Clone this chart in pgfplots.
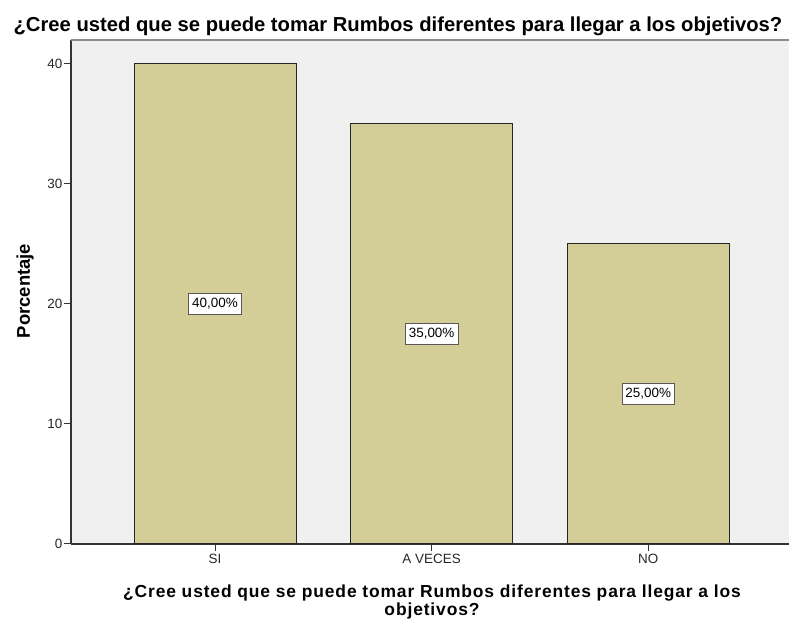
\documentclass[border=0pt]{standalone}
\usepackage{pgfplots}
\pgfplotsset{compat=1.18}
\usepackage{fontspec}
\setmainfont{Liberation Sans}
\definecolor{barfill}{RGB}{211,206,151}
\definecolor{plotbg}{RGB}{240,240,240}

\begin{document}
\begin{tikzpicture}
\useasboundingbox (0,0) rectangle (789bp,619bp);
\begin{axis}[
    at={(71bp,75bp)}, anchor=south west,
    scale only axis, width=718bp, height=504bp,
    xmin=-0.665, xmax=2.65, ymin=0, ymax=42,
    axis x line*=bottom, axis y line*=left,
    axis line style={black!80, line width=1.2bp},
    axis background/.style={fill=plotbg},
    xtick={0,1,2}, xticklabels={SI, A VECES, NO},
    ytick={0,10,20,30,40},
    tick align=outside, major tick length=7bp,
    tick style={black!80, line width=1bp},
    ticklabel style={font=\fontsize{13.5}{15}\selectfont, text=black!85},
    yticklabel style={inner xsep=1.5bp},
    xticklabel style={inner ysep=3bp},
    /pgf/number format/assume math mode=true,
    clip=false,
]
\draw[black!45, line width=1.5bp] (rel axis cs:0,1) -- (rel axis cs:1,1);
\addplot[ybar, bar width=162bp, fill=barfill, draw=black!85, line width=1bp]
    coordinates {(0,40) (1,35) (2,25)};
\addplot[only marks, mark=*, mark size=0pt, mark options={draw=none, fill=none},
    nodes near coords, point meta=explicit symbolic,
    nodes near coords style={anchor=center, fill=white, draw=black!65,
        line width=0.8bp, text=black, inner xsep=3.5bp, inner ysep=4bp,
        text height=10.5bp, text depth=3bp,
        font=\fontsize{13.5}{15}\selectfont}]
    coordinates {(0,20)[40,00\%] (1,17.5)[35,00\%] (2,12.5)[25,00\%]};
\end{axis}
\node[anchor=base, inner sep=0pt, font=\bfseries\fontsize{20.3}{24}\selectfont]
    at (398bp,587bp) {¿Cree usted que se puede tomar Rumbos diferentes para llegar a los objetivos?};
\node[anchor=north, inner sep=0pt, align=center,
    font=\bfseries\fontsize{17.5}{18}\selectfont\addfontfeatures{LetterSpace=5}]
    at (432bp,34bp) {¿Cree usted que se puede tomar Rumbos diferentes para llegar a los\\objetivos?};
\node[rotate=90, inner sep=0pt, font=\bfseries\fontsize{18.5}{20}\selectfont]
    at (25bp,328bp) {Porcentaje};
\end{tikzpicture}
\end{document}
